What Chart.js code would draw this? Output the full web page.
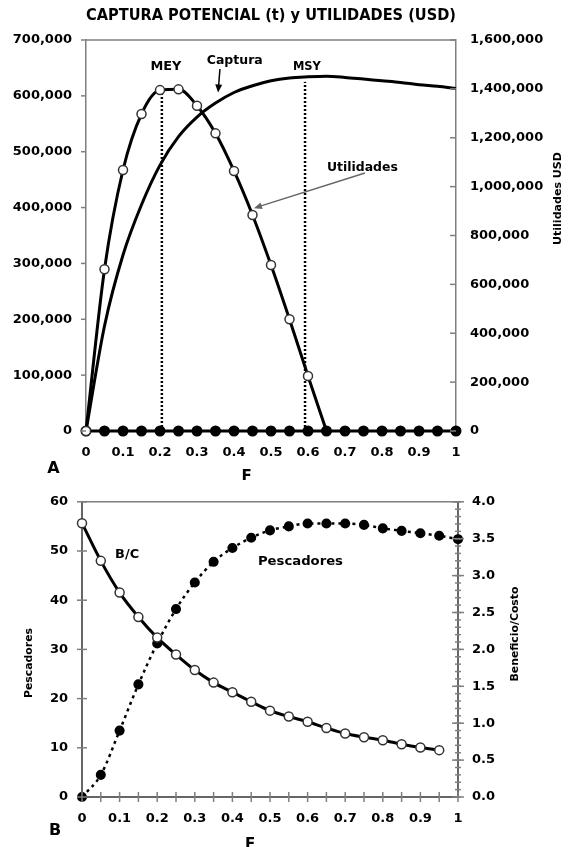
<!DOCTYPE html>
<html>
<head>
<meta charset="utf-8">
<script src="https://cdn.jsdelivr.net/npm/chart.js@4.4.0/dist/chart.umd.min.js"></script>
<style>
  body { margin: 0; background: #fff; }
  canvas { position: absolute; left: 0; }
  #chartA { top: 0; }
  #chartB { top: 480px; }
</style>
</head>
<body>
<canvas id="chartA" width="570" height="480"></canvas>
<canvas id="chartB" width="570" height="367"></canvas>
<script>
// F (mortalidad por pesca)
const F = [0, 0.05, 0.1, 0.15, 0.2, 0.25, 0.3, 0.35, 0.4, 0.45, 0.5,
           0.55, 0.6, 0.65, 0.7, 0.75, 0.8, 0.85, 0.9, 0.95, 1];

// Panel A
const captura = [0, 188000, 315000, 405000, 476000, 527000, 562000, 587000, 606000, 618000, 627000,
                 632000, 634000, 635000, 633000, 630000, 627000, 624000, 620000, 617000, 613000];
const utilidades = [0, 662000, 1068000, 1297000, 1395000, 1398000, 1331000, 1218000, 1064000,
                    884000, 679000, 457000, 225000, 0];
const utilidadesCero = [0, 0, 0, 0, 0, 0, 0, 0, 0, 0, 0, 0, 0, 0, 0, 0, 0, 0, 0, 0, 0];
const meyF = 0.205, meyTop = 605000;
const msyF = 0.592, msyTop = 625000;

// Panel B
const pescadores = [0, 4.5, 13.5, 22.9, 31.2, 38.2, 43.6, 47.8, 50.6, 52.7, 54.2,
                    55.0, 55.6, 55.6, 55.6, 55.3, 54.6, 54.1, 53.6, 53.1, 52.4];
const beneficioCosto = [3.71, 3.20, 2.77, 2.44, 2.16, 1.93, 1.72, 1.55, 1.42, 1.29,
                        1.17, 1.09, 1.02, 0.935, 0.86, 0.81, 0.77, 0.715, 0.67, 0.635];

const GRAY = '#7f7f7f';
const FONT = "'DejaVu Sans', sans-serif";

Chart.defaults.font.family = FONT;
Chart.defaults.font.size = 13;
Chart.defaults.font.weight = 'bold';
Chart.defaults.color = '#000';

function pts(values) {
    return values.map((v, i) => ({ x: F[i], y: v }));
}

function range(from, to, step) {
    let out = [];
    for (let i = 0; from + i * step <= to + 1e-9; i++) out.push(+(from + i * step).toFixed(4));
    return out;
}

const fLabel = v => String(+v.toFixed(2));

function drawText(ctx, t, px, py) {
    ctx.save();
    ctx.translate(px, py);
    if (t.rotate) ctx.rotate(t.rotate);
    ctx.font = 'bold ' + (t.size || 13) + 'px ' + FONT;
    ctx.textAlign = 'center';
    ctx.textBaseline = 'middle';
    if (t.width) {
        let w = ctx.measureText(t.text).width;
        ctx.scale(t.width / w, 1);
    }
    ctx.fillStyle = t.color || '#000';
    ctx.fillText(t.text, 0, 0);
    ctx.restore();
}

function drawArrow(ctx, x1, y1, x2, y2, color) {
    let ang = Math.atan2(y2 - y1, x2 - x1);
    ctx.save();
    ctx.strokeStyle = color;
    ctx.fillStyle = color;
    ctx.lineWidth = 1.5;
    ctx.beginPath();
    ctx.moveTo(x1, y1);
    ctx.lineTo(x2 - 5 * Math.cos(ang), y2 - 5 * Math.sin(ang));
    ctx.stroke();
    ctx.beginPath();
    ctx.moveTo(x2, y2);
    ctx.lineTo(x2 - 8 * Math.cos(ang) + 3.5 * Math.sin(ang), y2 - 8 * Math.sin(ang) - 3.5 * Math.cos(ang));
    ctx.lineTo(x2 - 8 * Math.cos(ang) - 3.5 * Math.sin(ang), y2 - 8 * Math.sin(ang) + 3.5 * Math.cos(ang));
    ctx.closePath();
    ctx.fill();
    ctx.restore();
}

// frame top, tick marks crossing the axes, labels and arrows
const extras = {
    id: 'extras',
    afterDatasetsDraw(chart, args, opts) {
        const ctx = chart.ctx;
        const area = chart.chartArea;
        ctx.save();
        ctx.strokeStyle = GRAY;
        ctx.lineWidth = 1.5;
        ctx.beginPath();
        ctx.moveTo(area.left, area.top);
        ctx.lineTo(area.right, area.top);
        ctx.stroke();

        (opts.ticks || []).forEach(t => {
            const s = chart.scales[t.axis];
            ctx.strokeStyle = GRAY;
            ctx.lineWidth = t.lineWidth || 1.5;
            t.values.forEach(v => {
                const p = s.getPixelForValue(v);
                ctx.beginPath();
                if (s.isHorizontal()) {
                    ctx.moveTo(p, s.top - t.inner);
                    ctx.lineTo(p, s.top + t.outer);
                } else if (s.position === 'left') {
                    ctx.moveTo(s.right - t.outer, p);
                    ctx.lineTo(s.right + t.inner, p);
                } else {
                    ctx.moveTo(s.left - t.inner, p);
                    ctx.lineTo(s.left + t.outer, p);
                }
                ctx.stroke();
            });
        });
        ctx.restore();

        const x = chart.scales.x, y = chart.scales.y;
        (opts.arrows || []).forEach(a => {
            drawArrow(ctx, x.getPixelForValue(a.from[0]), y.getPixelForValue(a.from[1]),
                      x.getPixelForValue(a.to[0]), y.getPixelForValue(a.to[1]), a.color);
        });
        (opts.labels || []).forEach(l => {
            drawText(ctx, l, x.getPixelForValue(l.at[0]), y.getPixelForValue(l.at[1]));
        });
        (opts.texts || []).forEach(t => drawText(ctx, t, t.px, t.py));
    }
};

const hiddenGrid = { display: false, drawTicks: false };

new Chart(document.getElementById('chartA'), {
    type: 'line',
    data: {
        datasets: [
            {
                label: 'Utilidades',
                data: pts(utilidades),
                yAxisID: 'y2',
                borderColor: '#000',
                borderWidth: 3,
                cubicInterpolationMode: 'monotone',
                pointRadius: utilidades.map((v, i) => i === utilidades.length - 1 ? 0 : 4.5),
                pointBackgroundColor: '#fff',
                pointBorderColor: '#333',
                pointBorderWidth: 1.5,
                clip: false
            },
            {
                label: 'Utilidades (<= 0)',
                data: pts(utilidadesCero),
                yAxisID: 'y',
                borderColor: '#000',
                borderWidth: 3,
                pointRadius: 4,
                pointBackgroundColor: '#000',
                pointBorderColor: '#000',
                clip: false
            },
            {
                label: 'Captura',
                data: pts(captura),
                yAxisID: 'y',
                borderColor: '#000',
                borderWidth: 3,
                cubicInterpolationMode: 'monotone',
                pointRadius: 0,
                clip: false
            },
            {
                label: 'MEY',
                data: [{ x: meyF, y: 0 }, { x: meyF, y: meyTop }],
                yAxisID: 'y',
                borderColor: '#000',
                borderWidth: 2.5,
                borderDash: [2, 2],
                pointRadius: 0
            },
            {
                label: 'MSY',
                data: [{ x: msyF, y: 0 }, { x: msyF, y: msyTop }],
                yAxisID: 'y',
                borderColor: '#000',
                borderWidth: 2.5,
                borderDash: [2, 2],
                pointRadius: 0
            }
        ]
    },
    options: {
        responsive: false,
        animation: false,
        layout: { padding: 0 },
        scales: {
            x: {
                type: 'linear', min: 0, max: 1,
                ticks: { stepSize: 0.1, padding: 14, callback: fLabel },
                grid: hiddenGrid,
                border: { display: false },
                afterFit: s => { s.height = 49; }
            },
            y: {
                position: 'left', min: 0, max: 700000,
                ticks: { stepSize: 100000, padding: 14, callback: v => v.toLocaleString('en-US') },
                grid: hiddenGrid,
                border: { color: GRAY, width: 1.5 },
                afterFit: s => { s.width = 86; }
            },
            y2: {
                position: 'right', min: 0, max: 1600000,
                ticks: { stepSize: 200000, padding: 14, callback: v => v.toLocaleString('en-US') },
                grid: hiddenGrid,
                border: { color: GRAY, width: 1.5 },
                afterFit: s => { s.width = 114; }
            }
        },
        plugins: {
            legend: { display: false },
            tooltip: { enabled: false },
            title: {
                display: true,
                fullSize: false,
                text: 'CAPTURA POTENCIAL (t) y UTILIDADES (USD)',
                font: { size: 15, weight: 'bold', lineHeight: 1.2 },
                padding: { top: 7, bottom: 15 }
            },
            extras: {
                ticks: [
                    { axis: 'y', values: range(0, 700000, 100000), inner: 0, outer: 5 },
                    { axis: 'y2', values: range(0, 1600000, 200000), inner: 6, outer: 0 }
                ],
                arrows: [
                    { from: [0.362, 648000], to: [0.357, 606000], color: '#000' },
                    { from: [0.754, 462000], to: [0.454, 399000], color: '#666' }
                ],
                labels: [
                    { text: 'MEY', at: [0.216, 653000], size: 13, width: 31 },
                    { text: 'Captura', at: [0.402, 662000], size: 12, width: 56 },
                    { text: 'MSY', at: [0.597, 652000], size: 13, width: 28 },
                    { text: 'Utilidades', at: [0.747, 471000], size: 12, width: 71 }
                ],
                texts: [
                    { text: 'A', px: 53.5, py: 469, size: 16 },
                    { text: 'F', px: 246.5, py: 477, size: 15 },
                    { text: 'Utilidades USD', px: 558, py: 198.5, size: 11, width: 93, rotate: -Math.PI / 2 }
                ]
            }
        }
    },
    plugins: [extras]
});

new Chart(document.getElementById('chartB'), {
    type: 'line',
    data: {
        datasets: [
            {
                label: 'B/C',
                data: pts(beneficioCosto),
                yAxisID: 'y2',
                borderColor: '#000',
                borderWidth: 3,
                cubicInterpolationMode: 'monotone',
                pointRadius: 4.5,
                pointBackgroundColor: '#fff',
                pointBorderColor: '#333',
                pointBorderWidth: 1.5,
                clip: false
            },
            {
                label: 'Pescadores',
                data: pts(pescadores),
                yAxisID: 'y',
                borderColor: '#000',
                borderWidth: 2.5,
                borderDash: [3, 4],
                cubicInterpolationMode: 'monotone',
                pointRadius: 3.8,
                pointBackgroundColor: '#000',
                pointBorderColor: '#000',
                clip: false
            }
        ]
    },
    options: {
        responsive: false,
        animation: false,
        layout: { padding: { top: 21 } },
        scales: {
            x: {
                type: 'linear', min: 0, max: 1,
                ticks: { stepSize: 0.1, padding: 13.5, callback: fLabel },
                grid: hiddenGrid,
                border: { color: '#666', width: 2 },
                afterFit: s => { s.height = 50; }
            },
            y: {
                position: 'left', min: 0, max: 60,
                ticks: { stepSize: 10, padding: 14 },
                grid: hiddenGrid,
                border: { color: '#666', width: 2 },
                afterFit: s => { s.width = 82; }
            },
            y2: {
                position: 'right', min: 0, max: 4,
                ticks: { stepSize: 0.5, padding: 14, callback: v => v.toFixed(1) },
                grid: hiddenGrid,
                border: { color: '#666', width: 2 },
                afterFit: s => { s.width = 112; }
            }
        },
        plugins: {
            legend: { display: false },
            tooltip: { enabled: false },
            extras: {
                ticks: [
                    { axis: 'x', values: F, inner: 5, outer: 5 },
                    { axis: 'y', values: range(0, 60, 10), inner: 5, outer: 5 },
                    { axis: 'y2', values: range(0, 4, 0.1), inner: 3, outer: 3 },
                    { axis: 'y2', values: range(0, 4, 0.5), inner: 6, outer: 6 }
                ],
                labels: [
                    { text: 'B/C', at: [0.12, 49.2], size: 12, width: 24 },
                    { text: 'Pescadores', at: [0.581, 47.8], size: 12, width: 85 }
                ],
                texts: [
                    { text: 'B', px: 55, py: 351, size: 16 },
                    { text: 'F', px: 250, py: 365.5, size: 15 },
                    { text: 'Pescadores', px: 29.5, py: 183, size: 11, width: 70, rotate: -Math.PI / 2 },
                    { text: 'Beneficio/Costo', px: 515, py: 154, size: 11, width: 95, rotate: -Math.PI / 2 }
                ]
            }
        }
    },
    plugins: [extras]
});
</script>
</body>
</html>
